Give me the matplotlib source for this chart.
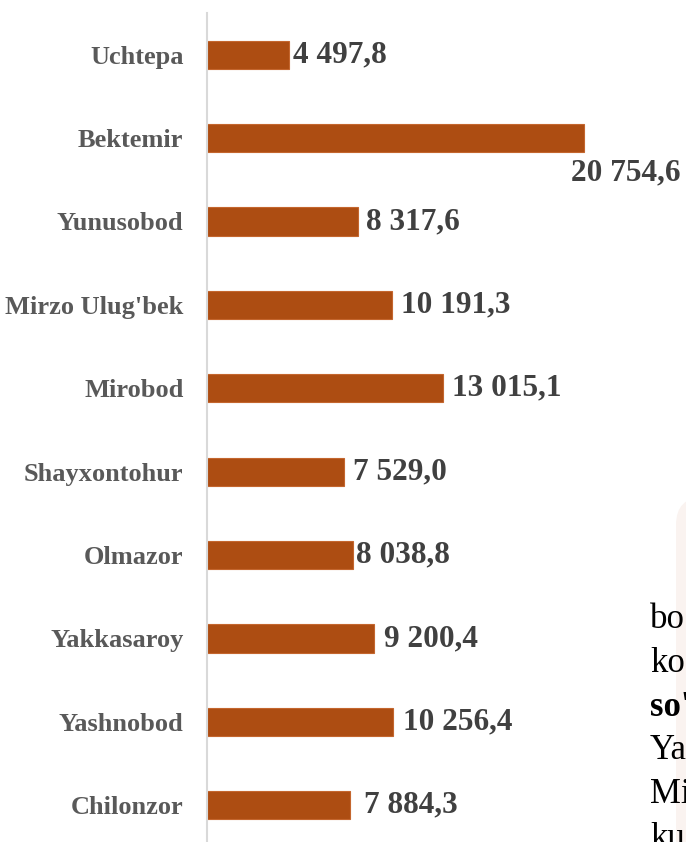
import matplotlib.pyplot as plt
from matplotlib.patches import FancyBboxPatch
from matplotlib.transforms import IdentityTransform

# districts of Tashkent, top to bottom as in the picture
districts = ["Uchtepa", "Bektemir", "Yunusobod", "Mirzo Ulug'bek", "Mirobod",
             "Shayxontohur", "Olmazor", "Yakkasaroy", "Yashnobod", "Chilonzor"]
values = [4497.8, 20754.6, 8317.6, 10191.3, 13015.1,
          7529.0, 8038.8, 9200.4, 10256.4, 7884.3]

# cut-off words of the page text on the right
side_words = ["bo", "ko", "so'", "Ya", "Mi", "ku"]

# gap (points) between bar end and its label, labels were hand placed
label_gap = [3, 0, 6, 6.5, 6.5, 7, 2.5, 7, 7, 10]

W, H = 686, 842
plt.rcParams['font.family'] = ['Liberation Serif', 'DejaVu Serif']

fig = plt.figure(figsize=(W / 100, H / 100), dpi=100)

# faint rounded panel behind the page text (pixel coords)
panel = FancyBboxPatch((676, -60), 120, 345 + 60,
                       boxstyle="round,pad=0,rounding_size=28",
                       transform=IdentityTransform(), facecolor='#FAF3F0',
                       edgecolor='none', zorder=0)
fig.patches.append(panel)

ax = fig.add_axes([207 / W, -5 / H, 479 / W, 834 / H])
ax.patch.set_alpha(0)

ypos = list(range(len(districts)))
ax.barh(ypos, values, height=0.34, color='#AD4D12', edgecolor='#C4662E',
        linewidth=0.8)
ax.set_ylim(len(districts) - 0.5, -0.5)
ax.set_xlim(0, 26400)

ax.set_yticks(ypos)
ax.set_yticklabels(districts, fontsize=19, fontweight='bold', color='#595959')
ax.tick_params(axis='y', length=0, pad=17)
ax.set_xticks([])

for s in ['top', 'right', 'bottom']:
    ax.spines[s].set_visible(False)
ax.spines['left'].set_color('#D9D9D9')
ax.spines['left'].set_linewidth(1.5)


def fmt(v):
    return f"{v:,.1f}".replace(",", " ").replace(".", ",")


for i, v in enumerate(values):
    if v > 20000:
        # too long to fit beside the bar, goes under its end
        ax.annotate(fmt(v), (v, i), xytext=(70, -25), textcoords='offset points',
                    ha='right', va='center', fontsize=22.5, fontweight='bold',
                    color='#404040')
    else:
        ax.annotate(fmt(v), (v, i), xytext=(label_gap[i], 0),
                    textcoords='offset points', ha='left', va='center',
                    fontsize=22.5, fontweight='bold', color='#404040')

# page text peeking in at the bottom right
for k, w in enumerate(side_words):
    fig.text(650 / W, 1 - (628 + 43.75 * k) / H, w, fontsize=25,
             fontweight='bold' if w == "so'" else 'normal',
             color='#000000', va='baseline', ha='left', zorder=3)

fig.savefig('out.png', dpi=100)
